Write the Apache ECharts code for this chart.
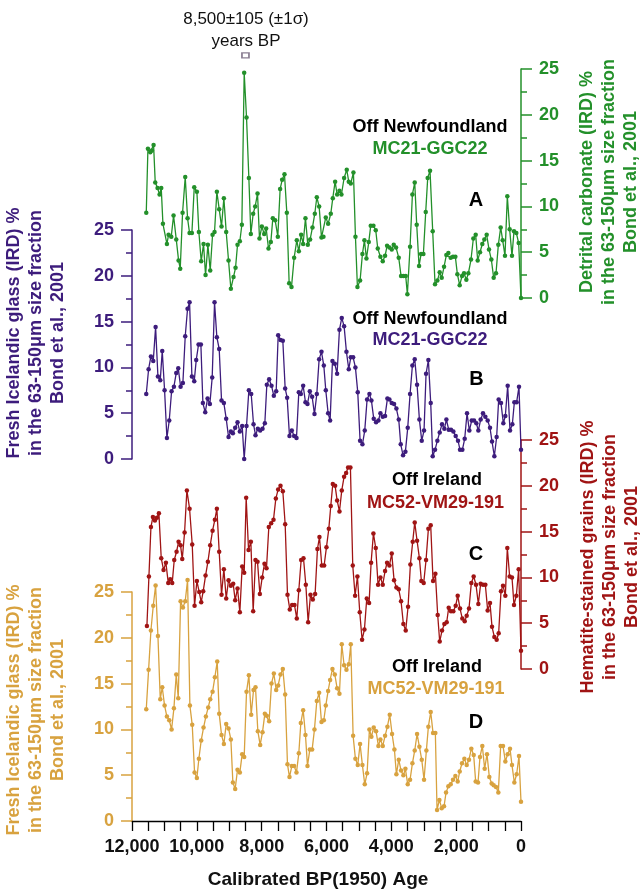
<!DOCTYPE html>
<html>
<head>
<meta charset="utf-8">
<script src="https://cdn.jsdelivr.net/npm/echarts@6/dist/echarts.min.js"></script>
<style>
html,body{margin:0;padding:0;background:#fff;}
#chart{width:640px;height:891px;}
</style>
</head>
<body>
<div id="chart"></div>
<script>
// ---- Data (calibrated years BP, percent) ----
const yearsA = [11560,11509,11437,11385,11334,11283,11211,11149,11098,11046,
10923,10872,10789,10718,10635,10563,10512,10440,10358,10286,
10224,10152,10080,9998,9937,9865,9793,9731,9659,9587,
9515,9454,9382,9310,9238,9166,9094,9022,8950,8868,
8806,8745,8673,8611,8539,8467,8395,8334,8262,8200,
8128,8067,7995,7923,7861,7789,7717,7656,7584,7502,
7430,7368,7296,7224,7152,7080,6998,6916,6854,6782,
6721,6649,6577,6505,6433,6361,6299,6227,6155,6094,
6022,5950,5868,5806,5734,5672,5600,5539,5457,5375,
5313,5251,5169,5107,5046,4964,4892,4830,4768,4696,
4635,4553,4481,4419,4337,4265,4193,4131,4059,3987,
3926,3854,3772,3700,3628,3556,3505,3422,3350,3278,
3217,3145,3083,3011,2939,2878,2806,2724,2652,2580,
2508,2446,2374,2302,2241,2169,2097,2025,1963,1891,
1819,1758,1686,1624,1542,1470,1398,1336,1265,1193,
1131,1059,987,915,843,771,699,627,565,494,
422,350,278,216,144,72,0];
const valuesA = [9.3,16.3,15.9,16.1,16.7,12.6,12.0,11.3,12.0,8.1,
5.9,6.9,6.7,9.0,6.4,4.1,3.2,9.3,13.2,8.7,
7.1,7.1,12.1,11.6,7.2,4.0,5.9,2.5,5.8,3.0,
6.9,7.2,11.6,9.7,7.8,10.9,7.2,4.1,1.0,2.3,
3.3,5.8,6.2,8.0,24.6,19.7,13.1,7.0,9.2,10.0,
11.4,6.5,7.8,7.0,7.6,5.4,6.1,8.7,8.5,6.7,
11.9,12.9,13.5,9.3,1.6,1.2,4.4,6.3,5.1,6.9,
5.9,8.7,5.8,6.4,7.7,9.2,11.0,10.0,6.6,6.7,
8.8,8.1,9.2,10.9,12.7,11.3,11.7,11.3,13.1,14.0,
12.7,12.5,13.7,6.7,1.2,1.9,4.8,6.3,4.3,6.1,
7.9,7.9,7.4,5.4,4.5,4.0,4.6,5.7,5.5,5.3,
5.8,5.5,4.4,2.4,2.4,2.4,0.4,5.6,11.3,12.6,
8.0,3.5,4.8,4.8,9.4,13.1,13.9,7.3,1.5,1.9,
2.8,2.2,3.4,4.7,4.9,4.4,4.5,4.5,2.6,1.4,
2.4,2.7,2.0,2.7,4.2,6.5,6.9,4.1,5.0,5.9,
6.4,6.9,5.3,4.2,2.2,2.7,5.8,7.7,6.3,4.6,
11.1,7.5,4.6,7.3,7.1,6.0,0];

const yearsB = [11560,11488,11416,11344,11272,11200,11128,11067,10995,10923,
10851,10779,10707,10635,10573,10501,10430,10358,10286,10224,
10152,10080,10019,9947,9875,9813,9741,9669,9598,9526,
9454,9382,9310,9238,9166,9094,9022,8950,8888,8817,
8745,8673,8601,8539,8467,8395,8323,8251,8190,8118,
8046,7974,7902,7841,7769,7697,7625,7552,7491,7419,
7347,7275,7214,7142,7070,6998,6926,6854,6792,6720,
6649,6587,6515,6443,6371,6299,6227,6155,6083,6022,
5950,5888,5816,5744,5673,5601,5529,5457,5385,5313,
5251,5179,5108,5036,4964,4892,4820,4748,4676,4615,
4543,4471,4399,4337,4265,4193,4121,4059,3988,3916,
3844,3771,3710,3638,3566,3494,3422,3350,3278,3206,
3134,3062,2991,2929,2857,2785,2724,2652,2580,2508,
2436,2364,2302,2230,2159,2087,2015,1943,1881,1809,
1737,1665,1593,1521,1449,1377,1316,1244,1172,1100,
1028,956,894,822,751,689,617,545,483,411,
339,267,205,134,62,0];
const valuesB = [7.1,9.8,11.2,10.7,14.4,9.0,8.6,11.8,7.5,2.3,
4.2,7.4,7.9,9.4,9.9,7.9,8.3,13.4,16.4,17.1,
9.0,8.5,10.8,12.5,12.5,6.1,5.1,6.6,6.0,8.9,
17.1,13.3,12.0,6.4,6.1,4.4,2.4,3.0,2.8,3.4,
4.0,3.0,3.6,0,3.6,7.5,7.1,3.8,2.6,3.3,
3.1,3.3,3.9,8.1,8.7,8.0,6.9,7.4,13.5,13.0,
12.9,7.7,6.7,2.5,3.1,2.5,2.3,7.3,7.1,8.0,
6.2,6.0,7.4,6.8,4.9,7.1,10.9,11.7,10.2,7.5,
5.0,4.2,10.7,10.4,9.3,14.1,15.4,14.5,11.7,9.8,
11.1,11.1,10.0,7.3,2.0,1.6,3.1,6.5,7.1,6.4,
4.4,4.0,4.2,5.0,4.6,4.7,6.6,6.5,6.1,6.0,
5.5,4.3,1.6,0.4,0.8,3.4,7.1,10.2,10.9,8.1,
4.3,2.0,3.1,9.3,10.8,6.1,0.3,1.0,2.0,2.9,
3.8,3.3,4.3,3.2,3.2,3.0,2.5,2.0,1.0,1.0,
2.2,5.0,3.1,4.2,4.2,3.9,3.1,4.3,5.0,4.6,
4.2,3.4,1.9,0.3,2.4,6.5,6.1,3.9,4.7,8.0,
3.1,3.8,6.2,6.2,7.9,1.0];

const yearsC = [11540,11478,11416,11355,11293,11231,11170,11098,11026,10954,
10882,10820,10759,10697,10625,10563,10502,10450,10378,10307,
10224,10142,10070,9998,9926,9865,9803,9731,9659,9587,
9515,9443,9382,9310,9238,9166,9094,9022,8950,8878,
8817,8745,8673,8601,8539,8478,8405,8333,8262,8190,
8128,8056,7984,7913,7851,7779,7707,7635,7563,7491,
7419,7347,7275,7203,7132,7060,6988,6916,6854,6782,
6710,6638,6566,6494,6423,6351,6279,6217,6145,6073,
6001,5929,5868,5806,5734,5672,5600,5529,5457,5395,
5334,5262,5190,5118,5046,4974,4902,4830,4758,4686,
4624,4553,4481,4409,4337,4265,4193,4132,4060,3987,
3916,3843,3772,3700,3628,3556,3484,3412,3340,3278,
3206,3134,3073,3001,2929,2857,2785,2713,2641,2570,
2508,2436,2364,2292,2230,2159,2087,2015,1953,1881,
1810,1737,1676,1604,1532,1460,1388,1316,1245,1173,
1100,1028,956,894,822,751,689,617,555,483,
422,350,278,216,144,72,0];
const valuesC = [4.7,10.1,15.5,16.6,16.2,16.5,17.0,12.1,10.8,11.6,
9.4,9.8,9.4,11.9,12.8,13.9,13.5,12.0,14.9,19.5,
17.5,13.6,6.9,9.6,8.4,7.3,8.5,10.2,11.7,13.5,
15.1,16.3,17.5,12.8,8.1,10.9,7.7,9.7,9.1,9.3,
7.5,8.8,6.2,11.2,10.5,18.7,13.0,13.9,6.3,11.9,
11.7,8.2,10.0,11.5,11.0,15.5,15.9,16.3,18.6,19.6,
20.0,19.4,15.8,8.1,6.5,7.0,7.0,5.5,8.6,11.9,
12.1,9.2,5.1,8.1,7.6,8.2,13.1,14.4,11.3,11.3,
13.3,15.3,17.8,20.2,20.0,18.4,17.2,19.5,21.0,21.4,
22.0,22.0,11.3,8.0,10.1,6.2,3.2,4.3,7.7,7.2,
11.6,14.8,13.2,9.2,10.0,9.2,10.7,11.6,11.3,12.6,
9.7,8.9,8.7,7.4,4.9,4.2,6.8,11.4,13.9,16.0,
14.0,12.1,9.6,9.4,11.9,15.3,15.7,9.6,10.4,5.9,
3.0,4.2,4.9,5.1,6.7,6.3,6.3,6.9,8.0,6.6,
5.5,5.2,5.8,6.6,9.4,10.1,9.2,7.1,9.3,9.2,
9.2,6.4,7.2,4.6,3.5,3.2,3.9,8.5,9.1,8.0,
13.2,10.1,10.0,7.0,8.0,10.9,2.0];

const yearsD = [11560,11488,11416,11344,11272,11200,11128,11067,10995,10923,
10851,10779,10707,10635,10573,10501,10430,10358,10286,10214,
10142,10070,9998,9937,9865,9793,9721,9649,9587,9515,
9443,9371,9310,9238,9166,9094,9022,8950,8888,8817,
8745,8673,8601,8539,8467,8395,8323,8251,8190,8118,
8046,7974,7902,7841,7769,7697,7625,7552,7491,7419,
7347,7275,7204,7142,7070,6998,6926,6854,6792,6720,
6649,6587,6515,6443,6371,6299,6227,6155,6083,6022,
5950,5888,5816,5744,5673,5601,5529,5457,5385,5313,
5251,5179,5108,5036,4964,4892,4820,4748,4676,4615,
4543,4471,4399,4337,4265,4193,4121,4049,3977,3905,
3844,3771,3700,3628,3566,3494,3422,3350,3278,3206,
3134,3062,2991,2919,2857,2785,2713,2642,2590,2518,
2446,2374,2313,2241,2168,2097,2025,1953,1891,1819,
1747,1676,1604,1532,1460,1398,1326,1265,1193,1121,
1049,977,905,843,771,699,627,555,483,411,
339,278,206,134,62,0];
const valuesD = [12.2,16.5,20.8,23.5,25.7,20.2,13.3,14.6,12.6,11.4,
11.0,10.0,12.3,16.0,13.4,24.0,23.3,24.0,26.3,12.6,
10.5,5.3,4.7,6.8,8.8,10.2,11.4,12.4,13.3,14.1,
15.7,17.4,11.7,9.4,8.4,10.6,10.1,8.9,4.2,3.5,
5.6,5.3,7.3,7.0,14.1,15.9,11.6,14.3,14.6,9.8,
8.3,9.7,11.7,11.5,10.9,15.0,16.1,14.3,14.8,16.0,
16.6,13.8,6.2,4.8,6.0,6.0,5.3,7.4,10.7,12.1,
9.4,6.0,7.8,7.8,10.0,13.1,14.0,10.8,11.0,12.6,
14.2,15.4,16.6,16.0,14.5,13.9,19.3,17.0,16.5,17.1,
19.3,9.3,6.8,6.1,8.4,6.1,4.0,5.2,10.0,9.2,
10.2,9.8,8.2,8.9,8.2,9.3,10.3,11.6,9.5,7.8,
5.1,6.7,5.5,5.0,5.7,4.0,4.5,6.3,7.7,9.5,
8.1,6.7,4.5,7.7,10.3,11.9,9.6,9.6,1.2,2.3,
1.4,1.6,3.1,3.8,4.0,4.5,4.9,4.3,5.4,6.3,
6.8,6.1,6.7,7.9,7.2,4.3,4.2,7.0,8.2,5.7,
7.3,4.8,4.1,3.9,3.7,3.1,8.2,8.2,6.5,7.3,
7.9,6.1,4.2,5.1,7.1,2.1];

// dated event annotation (year, plotted height on panel A scale)
const eventYear = [8500];
const eventLevel = [26.5];

// ---- Styling ----
const FONT = "'Liberation Sans', Arial, Helvetica, sans-serif";
const GREEN = '#23902a', PURPLE = '#3d1c7c', RED = '#a01414', GOLD = '#d8a23f';

function zip(xs, ys){ return xs.map((x,i)=>[x, ys[i]]); }

const grids = [
  {left:132, width:389, top:69,  height:229},
  {left:132, width:389, top:230, height:229},
  {left:132, width:389, top:440, height:229},
  {left:132, width:389, top:592, height:229}
];

function xAx(i, show){
  return {
    gridIndex:i, type:'value', min:0, max:12000, interval:500, inverse:true, show:show,
    axisLine:{show:true, onZero:false, lineStyle:{color:'#000', width:1.3}},
    axisTick:{show:true, length:10, lineStyle:{color:'#000', width:1.3}},
    splitLine:{show:false},
    axisLabel:{show:true, margin:17, color:'#111', fontFamily:FONT, fontWeight:'bold', fontSize:18,
      formatter:function(v){ return (v % 2000 === 0) ? String(v).replace(/\B(?=(\d{3})+(?!\d))/g, ',') : ''; }}
  };
}
function yAx(i, pos, color){
  return {
    gridIndex:i, type:'value', min:0, max:25, interval:5, position:pos,
    axisLine:{show:true, onZero:false, lineStyle:{color:color, width:1.5}},
    axisTick:{show:true, length:11, lineStyle:{color:color, width:1.5}},
    minorTick:{show:true, splitNumber:2, length:6, lineStyle:{color:color, width:1.5}},
    splitLine:{show:false},
    axisLabel:{margin:18, color:color, fontFamily:FONT, fontWeight:'bold', fontSize:18}
  };
}
function lineSeries(i, data, color){
  return {
    type:'line', xAxisIndex:i, yAxisIndex:i, data:data, clip:false,
    symbol:'circle', symbolSize:4.5, showAllSymbol:true,
    lineStyle:{color:color, width:1.3}, itemStyle:{color:color}, z:3
  };
}
function txt(x, y, text, size, color, weight, rot, lh){
  return {type:'text', x:x, y:y, rotation:rot||0, z:10,
    style:{text:text, fill:color, font:(weight||'bold')+' '+size+'px '+FONT,
      textAlign:'center', textVerticalAlign:'middle', lineHeight:lh||size}};
}

const chart = echarts.init(document.getElementById('chart'), null, {renderer:'canvas'});
chart.setOption({
  animation:false,
  backgroundColor:'#fff',
  grid:grids,
  xAxis:[xAx(0,false), xAx(1,false), xAx(2,false), xAx(3,true)],
  yAxis:[yAx(0,'right',GREEN), yAx(1,'left',PURPLE), yAx(2,'right',RED), yAx(3,'left',GOLD)],
  series:[
    lineSeries(0, zip(yearsA, valuesA), GREEN),
    lineSeries(1, zip(yearsB, valuesB), PURPLE),
    lineSeries(2, zip(yearsC, valuesC), RED),
    lineSeries(3, zip(yearsD, valuesD), GOLD),
    {type:'scatter', xAxisIndex:0, yAxisIndex:0, clip:false, data:zip(eventYear, eventLevel),
     symbol:'rect', symbolSize:[7,5], itemStyle:{color:'#fff', borderColor:'#6e5f78', borderWidth:1.5}, z:4}
  ],
  graphic:[
    txt(246, 19.5, '8,500±105 (±1σ)', 17, '#111', 'normal'),
    txt(246, 41, 'years BP', 17, '#111', 'normal'),
    txt(430, 127, 'Off Newfoundland', 18, '#000'),
    txt(430, 149.5, 'MC21-GGC22', 18, GREEN),
    txt(476, 200, 'A', 20, '#000'),
    txt(430, 319.5, 'Off Newfoundland', 18, '#000'),
    txt(430, 340.5, 'MC21-GGC22', 18, PURPLE),
    txt(476.5, 379.5, 'B', 20, '#000'),
    txt(437, 480.5, 'Off Ireland', 18, '#000'),
    txt(435.5, 503, 'MC52-VM29-191', 18, RED),
    txt(476, 554.5, 'C', 20, '#000'),
    txt(437, 667, 'Off Ireland', 18, '#000'),
    txt(436, 689.5, 'MC52-VM29-191', 18, GOLD),
    txt(476, 722, 'D', 20, '#000'),
    txt(36, 333, 'Fresh Icelandic glass (IRD) %\nin the 63-150\u03bcm size fraction\nBond et al., 2001', 18, PURPLE, 'bold', Math.PI/2, 22),
    txt(36, 710, 'Fresh Icelandic glass (IRD) %\nin the 63-150\u03bcm size fraction\nBond et al., 2001', 18, GOLD, 'bold', Math.PI/2, 22),
    txt(609, 182, 'Detrital carbonate (IRD) %\nin the 63-150\u03bcm size fraction\nBond et al., 2001', 18, GREEN, 'bold', Math.PI/2, 22),
    txt(610, 557, 'Hematite-stained grains (IRD) %\nin the 63-150\u03bcm size fraction\nBond et al., 2001', 18, RED, 'bold', Math.PI/2, 22),
    txt(318, 880, 'Calibrated BP(1950) Age', 19, '#111')
  ]
});
</script>
</body>
</html>
